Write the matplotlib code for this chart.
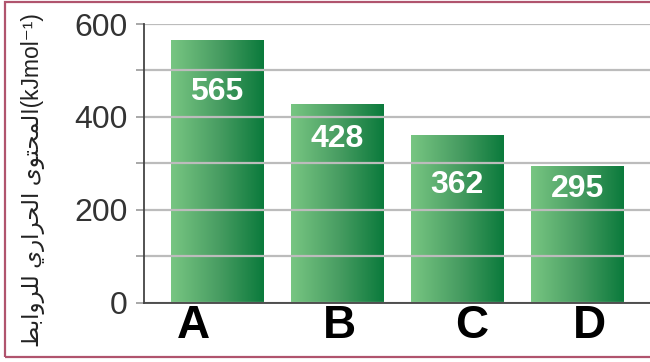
import matplotlib
matplotlib.use("Agg")
import matplotlib.pyplot as plt
import numpy as np
from matplotlib.colors import LinearSegmentedColormap
from matplotlib.patches import Rectangle
from matplotlib.ticker import MultipleLocator, FuncFormatter
from matplotlib.transforms import offset_copy

# Bond enthalpy per bond
bond_names = ["A", "B", "C", "D"]
bond_enthalpy = [565, 428, 362, 295]

# Arabic axis title, shaped by hand (presentation forms) because matplotlib does no shaping
word_1 = "\uFE8D\uFEDF\uFEE4\uFEA4\uFE98\uFEEE\uFEEF"  # المحتوى
word_2 = "\uFE8D\uFEDF\uFEA4\uFEAE\uFE8D\uFEAD\uFEF1"  # الحراري
word_3 = "\uFEDF\uFEE0\uFEAE\uFEED\uFE8D\uFE91\uFEC2"  # للروابط
y_title = (word_1 + " " + word_2 + " " + word_3)[::-1] + "(kJmol\u207B\u00B9)"

plt.rcParams["font.family"] = ["Liberation Sans", "DejaVu Sans"]

fig = plt.figure(figsize=(6.5, 3.62), dpi=100)
ax = fig.add_axes([0.2215, 0.1638, 0.7785, 0.7699])

green = LinearSegmentedColormap.from_list("bar_green", ["#78c682", "#4a9e63", "#0b7a3c"])
gradient = np.linspace(0, 1, 256).reshape(1, -1)

x = np.arange(len(bond_names))
bars = ax.bar(x, bond_enthalpy, width=0.77, color="none", edgecolor="none", zorder=2)

# fill each bar with a left-to-right green gradient
for bar in bars:
    x0, y0 = bar.get_x(), bar.get_y()
    img = ax.imshow(gradient, cmap=green, aspect="auto", zorder=2,
                    extent=(x0, x0 + bar.get_width(), y0, y0 + bar.get_height()))
    img.set_clip_path(bar)

# value labels inside the bars (pixel drop below the top of each bar)
label_drop = [52, 35, 50, 23]
for xi, val, drop in zip(x, bond_enthalpy, label_drop):
    ax.annotate(str(val), (xi, val), xytext=(0, -drop * 0.72), textcoords="offset points",
                ha="center", va="center", color="white", fontsize=23, fontweight="bold", zorder=4)

ax.set_xlim(-0.608, 3.604)
ax.set_ylim(0, 600)

ax.yaxis.set_major_locator(MultipleLocator(100))
ax.yaxis.set_major_formatter(FuncFormatter(lambda v, p: f"{int(v)}" if int(v) % 200 == 0 else ""))
ax.grid(axis="y", color="#bcbcbc", linewidth=1.6, zorder=3)
ax.set_axisbelow(False)

ax.tick_params(axis="y", length=6, width=1.2, color="#999999", pad=6,
               labelsize=23, labelcolor="#333333")
ax.set_xticks(x)
ax.set_xticklabels(bond_names, fontsize=33, fontweight="bold", color="black")
ax.tick_params(axis="x", length=0, pad=1)

# category letters don't sit quite under the bar centres
label_shift = [-24, 2.5, 14.5, 12.5]
for lbl, dx in zip(ax.get_xticklabels(), label_shift):
    lbl.set_transform(offset_copy(lbl.get_transform(), fig=fig, x=dx, y=0, units="dots"))

for side in ["top", "right"]:
    ax.spines[side].set_visible(False)
for side in ["left", "bottom"]:
    ax.spines[side].set_color("#444444")
    ax.spines[side].set_linewidth(1.3)
    ax.spines[side].set_zorder(5)

fig.text(33 / 650, 0.503, y_title, rotation=90, ha="center", va="center",
         fontsize=16.5, color="#222222")

# thin frame round the whole figure
fig.patches.append(Rectangle((5 / 650, 5 / 362), 1.2, 355 / 362, transform=fig.transFigure,
                             fill=False, edgecolor="#b0546e", linewidth=1.6, clip_on=False))

fig.savefig("out.png", dpi=100)
